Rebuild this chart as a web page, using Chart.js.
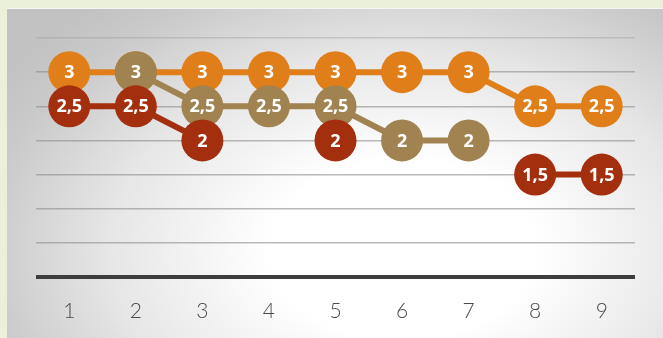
<!DOCTYPE html>
<html>
<head>
<meta charset="utf-8">
<script src="https://cdn.jsdelivr.net/npm/chart.js@4/dist/chart.umd.min.js"></script>
<style>
  html, body { margin: 0; padding: 0; }
  body { width: 663px; height: 338px; background: #ebf0da; position: relative; overflow: hidden; }
  #panel {
    position: absolute; left: 7px; top: 8px; width: 660px; height: 334px;
    background: radial-gradient(ellipse 72% 95% at 60% 72%, #ffffff 0%, #ffffff 28%, #e6e6e6 62%, #cacaca 88%, #c2c2c2 100%);
    border-top: 1px solid #f6f6f0;
  }
  #wrap { position: absolute; left: 0; top: 0; width: 663px; height: 338px; }
</style>
</head>
<body>
<div id="panel"></div>
<div id="wrap"><canvas id="chart" width="663" height="338"></canvas></div>
<script>
const categories = ["1", "2", "3", "4", "5", "6", "7", "8", "9"];
const seriesOrange = [3, 3, 3, 3, 3, 3, 3, 2.5, 2.5];
const seriesTan    = [null, 3, 2.5, 2.5, 2.5, 2, 2, null, null];
const seriesRed    = [2.5, 2.5, 2, null, 2, null, null, 1.5, 1.5];

const ORANGE = "#e07f1a";
const TAN = "#a08350";
const RED = "#a32f0e";

function fmt(v) { return String(v).replace(".", ","); }

// draw value labels right after each dataset so overlaps stay layered
const valueLabels = {
  id: "valueLabels",
  afterDatasetDraw(chart, args) {
    const ctx = chart.ctx;
    const ds = chart.data.datasets[args.index];
    ctx.save();
    ctx.fillStyle = "#ffffff";
    ctx.font = "bold 18px 'Noto Sans', 'DejaVu Sans', sans-serif";
    ctx.textAlign = "center";
    ctx.textBaseline = "middle";
    args.meta.data.forEach((pt, i) => {
      const v = ds.data[i];
      if (v === null || v === undefined) return;
      ctx.fillText(fmt(v), pt.x, pt.y + 1);
    });
    ctx.restore();
  }
};

function lineSet(label, data, color) {
  return {
    label, data,
    borderColor: color,
    backgroundColor: color,
    borderWidth: 6,
    pointRadius: 21,
    pointHoverRadius: 21,
    pointBorderWidth: 0,
    pointBackgroundColor: color,
    spanGaps: false,
    tension: 0,
    clip: false
  };
}

new Chart(document.getElementById("chart"), {
  type: "line",
  data: {
    labels: categories,
    // dataset 0 is drawn on top
    datasets: [
      lineSet("Red", seriesRed, RED),
      lineSet("Tan", seriesTan, TAN),
      lineSet("Orange", seriesOrange, ORANGE)
    ]
  },
  options: {
    responsive: false,
    animation: false,
    events: [],
    layout: { padding: { left: 36, right: 28, top: 38, bottom: 0 } },
    plugins: { legend: { display: false }, tooltip: { enabled: false } },
    scales: {
      x: {
        offset: true,
        grid: { display: false },
        border: { display: false },
        ticks: {
          color: "#4a4a4a",
          padding: 14,
          font: { family: "Lato, 'DejaVu Sans', sans-serif", size: 21, weight: 300 }
        },
        afterFit(scale) { scale.height = 61; }
      },
      y: {
        min: 0, max: 3.5,
        ticks: { display: false, stepSize: 0.5 },
        border: { display: false },
        grid: {
          drawTicks: false,
          color: c => c.tick.value === 0 ? "#3d3d3d" : (c.tick.value === 3.5 ? "rgba(160,160,160,0.45)" : "rgba(140,140,140,0.6)"),
          lineWidth: c => c.tick.value === 0 ? 4 : 1.5
        }
      }
    }
  },
  plugins: [valueLabels]
});
</script>
</body>
</html>
